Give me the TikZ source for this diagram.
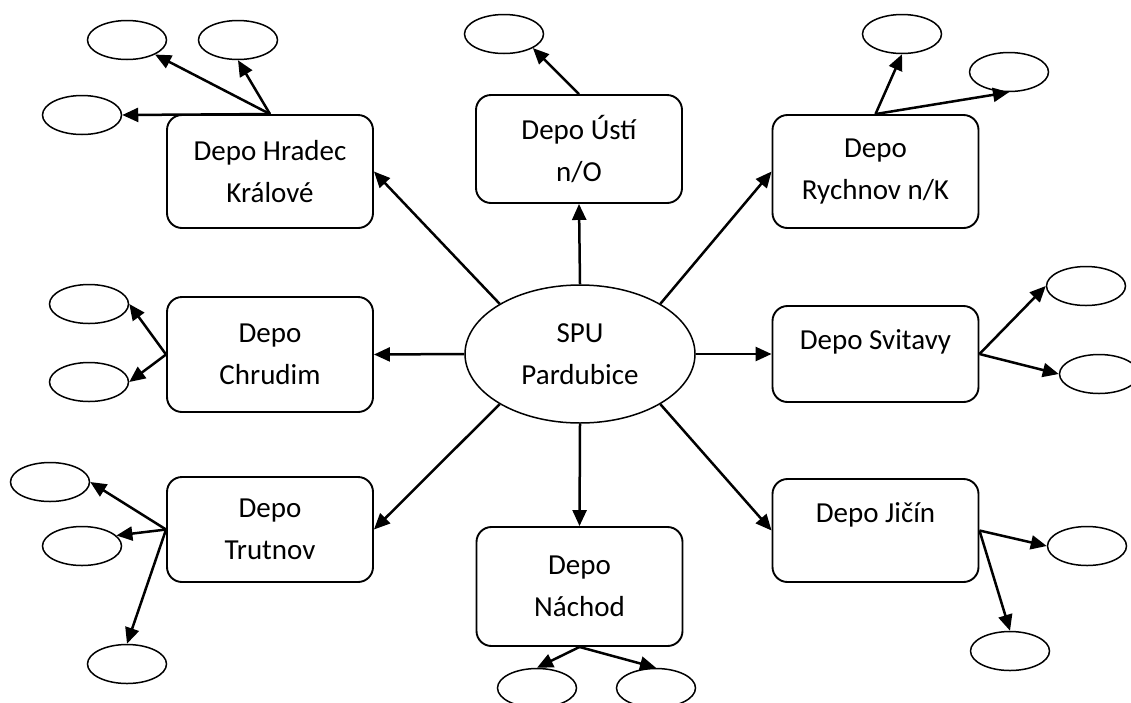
\documentclass[tikz,border=0pt]{standalone}
\usepackage{fontspec}
\setmainfont{Carlito}
\usetikzlibrary{arrows.meta,shapes.geometric}
\begin{document}
\begin{tikzpicture}[x=1pt,y=-1pt,
  depot/.style={draw,line width=1.9pt,rounded corners=15pt,minimum width=206pt,inner sep=0pt,align=center,font=\fontsize{29}{42}\selectfont},
  hub/.style={draw,ellipse,line width=1.5pt,minimum width=230pt,minimum height=138pt,inner sep=0pt,align=center,font=\fontsize{29}{42}\selectfont},
  leaf/.style={draw,ellipse,line width=1.5pt,minimum width=79pt,minimum height=39pt,inner sep=0pt},
  arr/.style={line width=2.5pt,-{Triangle[length=16pt,width=14pt]}}]
\useasboundingbox (0,0) rectangle (1131,702);
\fill[white] (0,0) rectangle (1131,702);
% hub
\node[hub] (spu) at (580,354) {SPU\\Pardubice};
% depots
\node[depot,minimum height=113pt] (hk) at (270,171.5) {Depo Hradec\\Králové};
\node[depot,minimum height=108pt] (us) at (579,149) {Depo Ústí\\n/O};
\node[depot,minimum height=113pt] (rk) at (875.5,171.5) {Depo\\Rychnov n/K};
\node[depot,minimum height=115pt] (ch) at (270,354.5) {Depo\\Chrudim};
\node[depot,minimum height=96pt] (sv) at (875.5,354) {Depo Svitavy\\[-14pt]\mbox{}};
\node[depot,minimum height=105pt] (tr) at (270,529.5) {Depo\\Trutnov};
\node[depot,minimum height=119pt] (na) at (579.5,586.5) {Depo\\Náchod};
\node[depot,minimum height=103pt] (ji) at (875.5,530.5) {Depo Jičín\\[-6pt]\mbox{}};
% leaves
\node[leaf] (a1) at (127,40) {};
\node[leaf] (a2) at (238,40) {};
\node[leaf] (a3) at (82,115) {};
\node[leaf] (u1) at (504,34) {};
\node[leaf] (r1) at (902,34) {};
\node[leaf] (r2) at (1009,72) {};
\node[leaf] (c1) at (89,304) {};
\node[leaf] (c2) at (89,382) {};
\node[leaf] (s1) at (1086,286) {};
\node[leaf] (s2) at (1099,374) {};
\node[leaf] (t1) at (50,482) {};
\node[leaf] (t2) at (82,546) {};
\node[leaf] (t3) at (127,664) {};
\node[leaf] (n1) at (537,688) {};
\node[leaf] (n2) at (656,688) {};
\node[leaf] (j1) at (1087,546) {};
\node[leaf] (j2) at (1010,651) {};
% hub to depots
\draw[arr] (spu.148) -- (hk.east);
\draw[arr] (spu.north) -- (us.south);
\draw[arr] (spu.32) -- (rk.west);
\draw[arr] (spu.west) -- (ch.east);
\draw[arr] (spu.east) -- (sv.west);
\draw[arr] (spu.212) -- (tr.east);
\draw[arr] (spu.south) -- (na.north);
\draw[arr] (spu.328) -- (ji.west);
% depots to leaves
\draw[arr] (hk.north) -- (a1);
\draw[arr] (hk.north) -- (a2.south);
\draw[arr] (hk.north) -- (a3.east);
\draw[arr] (us.north) -- (u1.-26);
\draw[arr] (rk.north) -- (r1.south);
\draw[arr] (rk.north) -- (r2.south);
\draw[arr] (ch.west) -- (c1.east);
\draw[arr] (ch.west) -- (c2.east);
\draw[arr] (sv.east) -- (s1.west);
\draw[arr] (sv.east) -- (s2.west);
\draw[arr] (tr.west) -- (t1.east);
\draw[arr] (tr.west) -- (t2.17);
\draw[arr] (tr.west) -- (t3.north);
\draw[arr] (na.south) -- (n1.north);
\draw[arr] (na.south) -- (n2.north);
\draw[arr] (ji.east) -- (j1.west);
\draw[arr] (ji.east) -- (j2.north);
\end{tikzpicture}
\end{document}
